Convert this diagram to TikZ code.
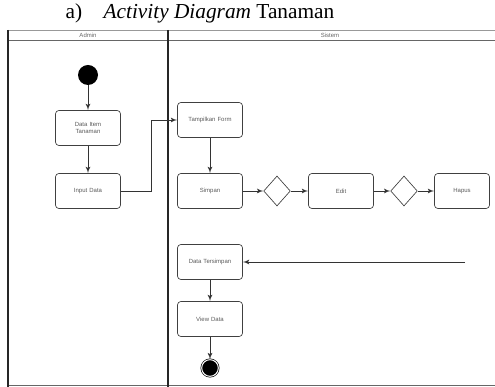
\documentclass[tikz,border=0pt]{standalone}
\usepackage{fontspec}
\setmainfont{Liberation Serif}
\newfontfamily\lanefont{Liberation Sans}
\usetikzlibrary{arrows,shapes,positioning,calc}
\tikzset{
  activity/.style = {draw=black!75, rounded corners=2pt, thin, align=center,
                     minimum width=39pt, minimum height=21pt, text width=24pt,
                     font=\lanefont\fontsize{3.6}{4.2}\selectfont, text=black!65},
  wide/.style     = {text width=31pt, inner xsep=2pt},
  decision/.style = {draw=black!75, diamond, thin, minimum width=16pt,
                     minimum height=18pt, inner sep=0pt},
  initial/.style  = {circle, fill=black, minimum size=12pt, inner sep=0pt},
  final/.style    = {circle, fill=black, draw=black, double=white, double distance=0.6pt,
                     minimum size=10pt, inner sep=0pt},
  lane/.style     = {font=\lanefont\fontsize{3.6}{4.2}\selectfont, text=black!60},
  flow/.style     = {draw=black!80, line width=0.35pt, -latex'}
}

\begin{document}
\begin{tikzpicture}[x=0.6pt, y=-0.6pt]
\useasboundingbox (0,0) rectangle (495,387);
\node[font=\fontsize{12.8}{14}\selectfont] (title) at (200,13) {a)\quad\textit{Activity Diagram} Tanaman};

% swimlanes
\draw[black!40] (8,30) -- (495,30);
\draw[black!60] (8,40) -- (495,40);
\draw[black!60] (8,385) -- (495,385);
\draw[black!85, line width=0.7pt] (8,30) -- (8,387);
\draw[black!85, line width=0.7pt] (168,30) -- (168,387);
\node[lane] (l1) at (88,35) {Admin};
\node[lane] (l2) at (330,35) {Sistem};

% admin
\node[initial] (start) at (88,75) {};
\node[activity] (item) at (88,128) {Data Item Tanaman};
\node[activity] (input) at (88,191) {Input Data};

% sistem
\node[activity, wide] (form) at (210,120) {Tampilkan Form};
\node[activity] (simpan) at (210,191) {Simpan};
\node[decision] (d1) at (277,191) {};
\node[activity] (edit) at (341,191) {Edit};
\node[decision] (d2) at (404,191) {};
\node[activity, minimum width=33pt, text width=22pt] (hapus) at (462,191) {Hapus};
\node[activity, wide] (tersimpan) at (210,262) {Data Tersimpan};
\node[activity] (view) at (210,319) {View Data};
\node[final] (end) at (210,368) {};
\coordinate (back) at (465,262);

\path [flow] (start) -- (item);
\path [flow] (item) -- (input);
\path [flow] (input.east) -- ++(30,0) |- (form.west);
\path [flow] (form) -- (simpan);
\path [flow] (simpan) -- (d1);
\path [flow] (d1) -- (edit);
\path [flow] (edit) -- (d2);
\path [flow] (d2) -- (hapus);
\path [flow] (back) -- (tersimpan);
\path [flow] (tersimpan) -- (view);
\path [flow] (view) -- (end);

\end{tikzpicture}
\end{document}
